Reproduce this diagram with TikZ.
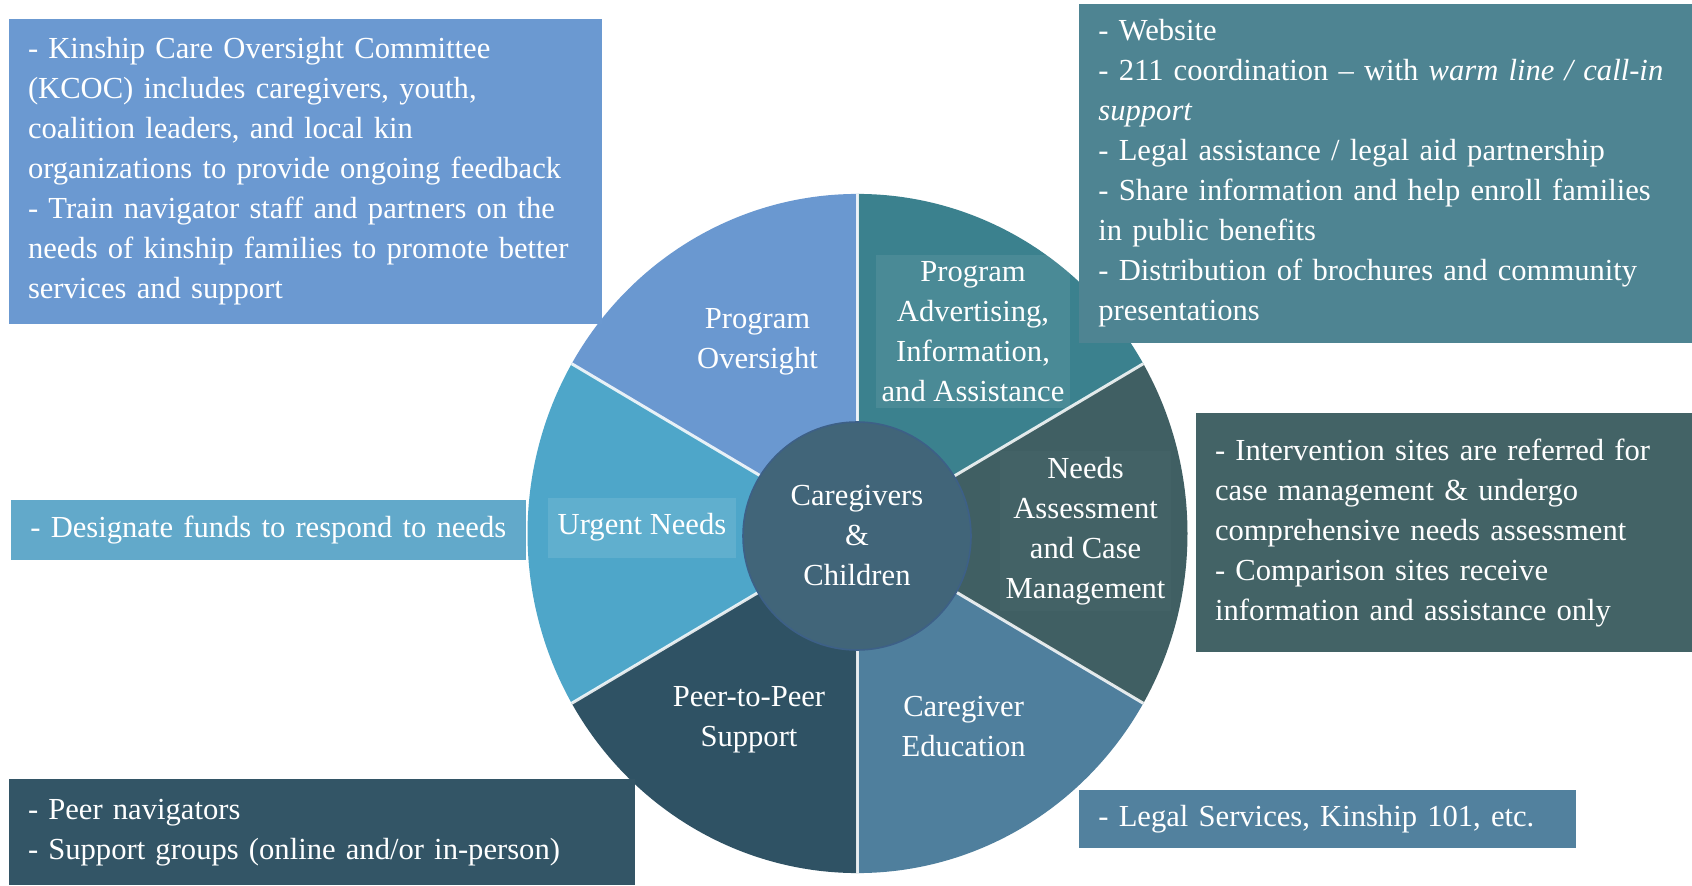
\documentclass[tikz,border=0pt]{standalone}
\usepackage{fontspec}
\setmainfont{Liberation Serif}

\definecolor{oversightBlue}{HTML}{6A98D0}
\definecolor{advertTeal}{HTML}{3B818E}
\definecolor{needsSlate}{HTML}{405F63}
\definecolor{educationBlue}{HTML}{4F7F9D}
\definecolor{peerNavy}{HTML}{2F5264}
\definecolor{urgentCyan}{HTML}{4EA6C9}
\definecolor{hubBlue}{HTML}{416579}
\definecolor{hubRim}{HTML}{3D6087}
\definecolor{oversightBox}{HTML}{6B99D1}
\definecolor{advertBox}{HTML}{4E8492}
\definecolor{needsBox}{HTML}{436366}
\definecolor{educationBox}{HTML}{52819E}
\definecolor{peerBox}{HTML}{335566}
\definecolor{urgentBox}{HTML}{62A9CA}

\tikzstyle{kinWheel}=[%
	every node/.style = {%
		text=white,
		font=\fontsize{15.3}{20}\selectfont
	},%
	infoBox/.style={%
		anchor=north west,
		inner xsep=9.5pt,
		inner ysep=0pt,
		align=left
	},
	sectorLabel/.style={%
		align=center,
		inner sep=3pt
	},
	labelShade/.style={%
		fill=white,
		fill opacity=##1,
		text opacity=1
	},
	spoke/.style={%
		draw=white,
		draw opacity=0.85,
		line width=1.5pt
	}
]

\begin{document}
\begin{tikzpicture}[
	x=0.5pt,
	y=0.5pt,
	kinWheel
]
	\useasboundingbox[fill=white] (0,0) rectangle (1692,885);

	% the wheel
	\begin{scope}[shift={(857.5,351.5)}, yscale=1.029]
		\foreach \a/\c in {30/advertTeal, 90/oversightBlue, 150/urgentCyan, 210/peerNavy, 270/educationBlue, 330/needsSlate} {
			\fill[\c] (0,0) -- (\a:330) arc (\a:\a+60:330) -- cycle;
		}
		\foreach \a in {30,90,...,330} {
			\draw[spoke] (0,0) -- (\a:330);
		}
	\end{scope}

	\node[circle, minimum size=114pt, fill=hubBlue, draw=hubRim, line width=0.8pt, align=center] (hub) at (857,349) {Caregivers\\\&\\Children};

	\node[sectorLabel] (oversightLabel) at (757.5,543) {Program\\Oversight};
	\node[sectorLabel, labelShade=0.08] (advertLabel) at (973,553.5) {Program\\Advertising,\\Information,\\and Assistance};
	\node[sectorLabel, labelShade=0.02] (needsLabel) at (1085.6,354.1) {Needs\\Assessment\\and Case\\Management};
	\node[sectorLabel] (educationLabel) at (963.6,158.2) {Caregiver\\Education};
	\node[sectorLabel] (peerLabel) at (749,165) {Peer-to-Peer\\Support};
	\node[sectorLabel, labelShade=0.1, inner xsep=5pt, minimum height=30pt] (urgentLabel) at (642,357.5) {Urgent Needs};

	% the notes round it
	\node[infoBox, fill=oversightBox, text width=277.7pt, minimum height=152.7pt] (oversightNotes) at (8.6,866.7) {%
		- Kinship Care Oversight Committee\\
		(KCOC) includes caregivers, youth,\\
		coalition leaders, and local kin\\
		organizations to provide ongoing feedback\\
		- Train navigator staff and partners on the\\
		needs of kinship families to promote better\\
		services and support};
	\node[infoBox, fill=advertBox, text width=287.5pt, minimum height=169.9pt] (advertNotes) at (1079,881.8) {%
		- Website\\
		- 211 coordination -- with \textit{warm line / call-in}\\
		\textit{support}\\
		- Legal assistance / legal aid partnership\\
		- Share information and help enroll families\\
		in public benefits\\
		- Distribution of brochures and community\\
		presentations};
	\node[infoBox, fill=urgentBox, text width=238.5pt, minimum height=30pt] (urgentNotes) at (11,385) {%
		\mbox{- Designate funds to respond to needs}};
	\node[infoBox, fill=needsBox, text width=229.2pt, minimum height=119.5pt] (needsNotes) at (1195.6,472) {%
		- Intervention sites are referred for\\
		case management \& undergo\\
		comprehensive needs assessment\\
		- Comparison sites receive\\
		information and assistance only\\[8pt]};
	\node[infoBox, fill=peerBox, text width=294pt, minimum height=53pt] (peerNotes) at (8.6,106) {%
		- Peer navigators\\
		- Support groups (online and/or in-person)};
	\node[infoBox, fill=educationBox, text width=229.25pt, minimum height=29pt] (educationNotes) at (1079,95) {%
		- Legal Services, Kinship 101, etc.};
\end{tikzpicture}
\end{document}
